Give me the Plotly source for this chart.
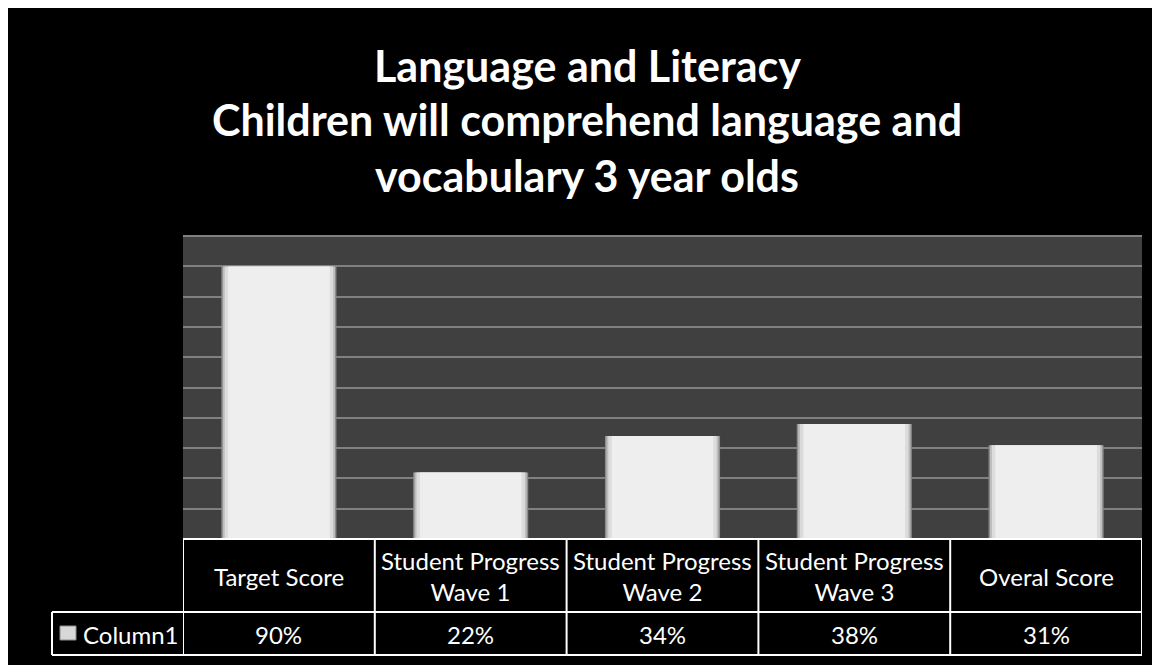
import plotly.graph_objects as go

# chart data
categories = ["Target Score", "Student Progress Wave 1", "Student Progress Wave 2",
              "Student Progress Wave 3", "Overal Score"]
header_labels = ["Target Score", "Student Progress<br>Wave 1", "Student Progress<br>Wave 2",
                 "Student Progress<br>Wave 3", "Overal Score"]
values = [0.90, 0.22, 0.34, 0.38, 0.31]
series_name = "Column1"
title_lines = ["Language and Literacy",
               "Children will comprehend language and",
               "vocabulary 3 year olds"]

# the page body has an 8px margin, so the figure starts at (8, 8) on screen
OFF = 8
W, H = 1160 - OFF, 665 - OFF
L, R, T, B = 175, 18, 227, 126
plot_h = H - T - B
plot_w = W - L - R


def py(screen_y):
    # screen row -> paper y
    return (H - B - (screen_y - OFF)) / plot_h


def px(screen_x):
    # screen column -> paper x
    return (screen_x - OFF - L) / plot_w


FONT = "Lato, Calibri, Carlito, sans-serif"
x_idx = list(range(len(categories)))

fig = go.Figure()

# bevelled look: outer grey bar, then lighter inner bars
for w, col in [(0.60, "#8c8c8c"), (0.585, "#bdbdbd"), (0.565, "#dcdcdc"), (0.53, "#eeeeee")]:
    fig.add_trace(go.Bar(
        x=x_idx, y=values, width=w, name=series_name,
        marker=dict(color=col, line=dict(width=0)),
        showlegend=False, hoverinfo="skip",
    ))

shapes = []
line = dict(color="white", width=2)
tbl_top, tbl_mid, tbl_bot = py(539), py(612), py(655)
left_cell = px(52)
shapes.append(dict(type="line", xref="paper", yref="paper", x0=0, x1=1, y0=tbl_top, y1=tbl_top, line=line))
shapes.append(dict(type="line", xref="paper", yref="paper", x0=left_cell, x1=1, y0=tbl_mid, y1=tbl_mid, line=line))
shapes.append(dict(type="line", xref="paper", yref="paper", x0=left_cell, x1=1, y0=tbl_bot, y1=tbl_bot, line=line))
shapes.append(dict(type="line", xref="paper", yref="paper", x0=left_cell, x1=left_cell, y0=tbl_mid, y1=tbl_bot, line=line))
for i in range(len(categories) + 1):
    xb = i - 0.5
    shapes.append(dict(type="line", xref="x", yref="paper", x0=xb, x1=xb, y0=tbl_top, y1=tbl_bot, line=line))

# legend key square
shapes.append(dict(type="rect", xref="paper", yref="paper",
                   x0=px(60), x1=px(76), y0=py(640), y1=py(626),
                   fillcolor="#d8d8d8", line=dict(color="#8c8c8c", width=1)))

annotations = []
for i, ln in enumerate(title_lines):
    annotations.append(dict(text=ln, xref="paper", yref="paper", x=px(587), y=py(65 + 55 * i),
                            xanchor="center", yanchor="middle", showarrow=False,
                            font=dict(family=FONT, size=43, color="white", weight="bold")))

for i, lab in enumerate(header_labels):
    annotations.append(dict(text=lab, xref="x", yref="paper", x=i, y=py(576),
                            xanchor="center", yanchor="middle", showarrow=False,
                            font=dict(family=FONT, size=24, color="white")))
    annotations.append(dict(text=f"{values[i]:.0%}", xref="x", yref="paper", x=i, y=py(634),
                            xanchor="center", yanchor="middle", showarrow=False,
                            font=dict(family=FONT, size=24, color="white")))

annotations.append(dict(text=series_name, xref="paper", yref="paper", x=px(81), y=py(634),
                        xanchor="left", yanchor="middle", showarrow=False,
                        font=dict(family=FONT, size=24, color="white")))

fig.update_layout(
    width=W, height=H,
    margin=dict(l=L, r=R, t=T, b=B, pad=0),
    paper_bgcolor="black",
    plot_bgcolor="#404040",
    barmode="overlay",
    showlegend=False,
    xaxis=dict(range=[-0.5, len(categories) - 0.5], showticklabels=False, showgrid=False,
               zeroline=False, ticks="", fixedrange=True),
    yaxis=dict(range=[0, 1.004], dtick=0.1, showticklabels=False, showgrid=True,
               gridcolor="#808080", gridwidth=2, zeroline=False, ticks="", fixedrange=True),
    shapes=shapes,
    annotations=annotations,
)

fig.write_html("out.html")
